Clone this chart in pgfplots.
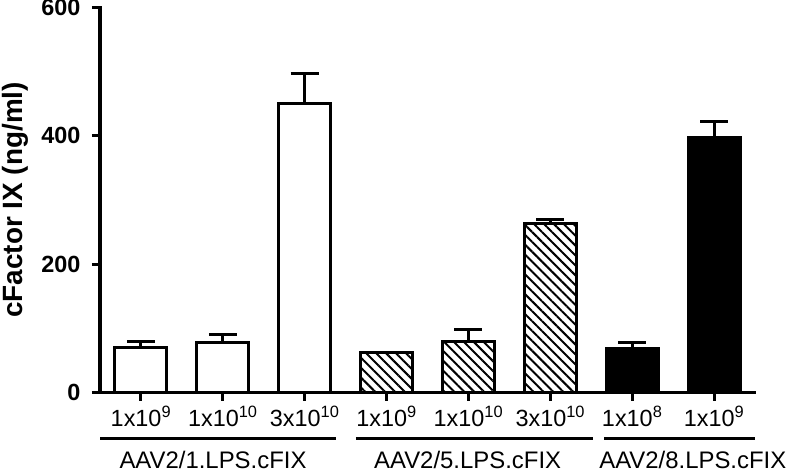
\documentclass[border=0pt]{standalone}
\usepackage{pgfplots}
\pgfplotsset{compat=1.18}
\usepackage{fontspec}
\setmainfont{Liberation Sans}
\usetikzlibrary{patterns.meta}

\pgfplotsset{
  bars/.style={ybar, bar width=52bp, bar shift=0pt, draw=black, line width=3bp},
}

\begin{document}
\begin{tikzpicture}
\useasboundingbox (-100bp,-79.3bp) rectangle (688bp,392.7bp);
\begin{axis}[
  scale only axis, width=655bp, height=385.7bp,
  xmin=-0.5, xmax=7.5, ymin=0, ymax=600,
  axis lines=left,
  axis line style={-, line width=3bp, line cap=rect},
  clip=false,
  ytick={0,200,400,600},
  xtick={0,1,2,3,4,5,6,7},
  xticklabels={1x10\textsuperscript{9}, 1x10\textsuperscript{10}, 3x10\textsuperscript{10},
               1x10\textsuperscript{9}, 1x10\textsuperscript{10}, 3x10\textsuperscript{10},
               1x10\textsuperscript{8}, 1x10\textsuperscript{9}},
  tick align=outside, major tick length=8bp,
  tick style={line width=3bp, black},
  /pgf/number format/assume math mode=true,
  yticklabel style={font=\fontsize{23.5}{26}\selectfont\bfseries, xshift=-8bp},
  xticklabel style={font=\fontsize{23.5}{26}\selectfont, yshift=-2bp},
]
% AAV2/1
\addplot[bars, fill=white,
  error bars/.cd, y dir=plus, y explicit,
  error bar style={line width=3bp, black},
  error mark options={rotate=90, line width=3bp, mark size=14bp, black}] coordinates {
  (0,70) +- (0,10)
  (1,78) +- (0,13)
  (2,450) +- (0,47)
};
% AAV2/5
\addplot[bars, fill=white, pattern={Lines[angle=-45, distance=7bp, line width=2bp]},
  error bars/.cd, y dir=plus, y explicit,
  error bar style={line width=3bp, black},
  error mark options={rotate=90, line width=3bp, mark size=14bp, black}] coordinates {
  (3,63) +- (0,0)
  (4,79) +- (0,19)
  (5,263) +- (0,7)
};
% AAV2/8
\addplot[bars, fill=black,
  error bars/.cd, y dir=plus, y explicit,
  error bar style={line width=3bp, black},
  error mark options={rotate=90, line width=3bp, mark size=14bp, black}] coordinates {
  (6,68) +- (0,10)
  (7,397) +- (0,25)
};
\draw[line width=3bp] ([yshift=-46bp]axis cs:-0.5,0) -- ([yshift=-46bp]axis cs:2.382,0);
\draw[line width=3bp] ([yshift=-46bp]axis cs:2.626,0) -- ([yshift=-46bp]axis cs:5.522,0);
\draw[line width=3bp] ([yshift=-46bp]axis cs:5.656,0) -- ([yshift=-46bp]axis cs:7.5,0);
\node[font=\fontsize{24}{28}\selectfont] at ([yshift=-67bp]axis cs:0.88,0) {AAV2/1.LPS.cFIX};
\node[font=\fontsize{24}{28}\selectfont] at ([yshift=-67bp]axis cs:3.99,0) {AAV2/5.LPS.cFIX};
\node[font=\fontsize{24}{28}\selectfont] at ([yshift=-67bp]axis cs:6.74,0) {AAV2/8.LPS.cFIX};
\end{axis}
\node[rotate=90, font=\fontsize{28}{32}\selectfont\bfseries] at (-85bp,192.85bp) {cFactor IX (ng/ml)};
\end{tikzpicture}
\end{document}
